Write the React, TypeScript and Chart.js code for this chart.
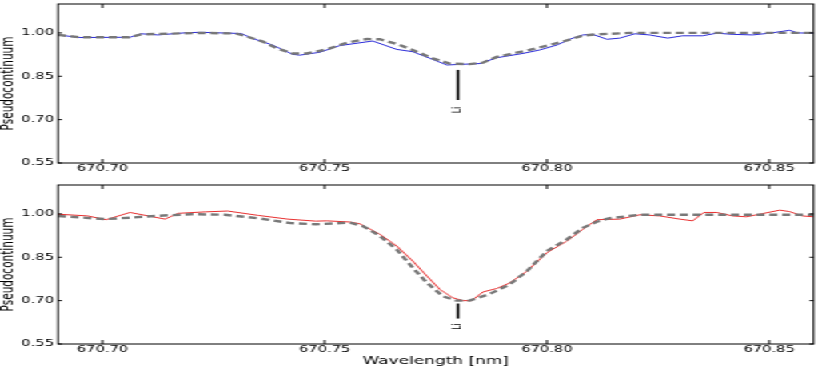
import React, { useEffect, useRef } from "react";
import { Chart, registerables } from "chart.js";
Chart.register(...registerables);

// ---- data ----
const xTicks = [670.7, 670.75, 670.8, 670.85];
const yTicks = [0.55, 0.7, 0.85, 1.0];
const xLabel = "Wavelength [nm]";
const yLabel = "Pseudocontinuum";
const liWave = 670.78;
const liLabel = "Li";
// [line top, line bottom, label centre]
const topMarker = [0.872, 0.768, 0.733];
const botMarker = [0.69, 0.638, 0.61];

const topObsWave = [670.69, 670.6949, 670.7062, 670.7087, 670.7125, 670.7192, 670.7222, 670.7312, 670.7338, 670.7383, 670.7428, 670.7444, 670.7489, 670.7534, 670.7608, 670.7662, 670.7698, 670.7737, 670.7775, 670.7804, 670.7849, 670.7887, 670.7946, 670.7984, 670.8022, 670.8058, 670.8081, 670.8103, 670.8135, 670.8164, 670.8198, 670.8231, 670.8272, 670.8305, 670.835, 670.8382, 670.8418, 670.8463, 670.8501, 670.8546, 670.8564, 670.86];
const topObsFlux = [0.993, 0.984, 0.985, 0.997, 0.993, 1.001, 1.002, 0.998, 0.981, 0.958, 0.926, 0.923, 0.933, 0.956, 0.972, 0.943, 0.935, 0.912, 0.889, 0.891, 0.894, 0.914, 0.929, 0.941, 0.958, 0.982, 0.993, 0.995, 0.978, 0.982, 0.997, 0.993, 0.982, 0.99, 0.99, 0.999, 0.995, 0.993, 0.999, 1.009, 1.0, 0.999];
const topModelWave = [670.69, 670.695, 670.706, 670.7087, 670.722, 670.73, 670.732, 670.7361, 670.7392, 670.7428, 670.746, 670.7505, 670.755, 670.7595, 670.7624, 670.7662, 670.7698, 670.7743, 670.7781, 670.7826, 670.7856, 670.7887, 670.7961, 670.8036, 670.8081, 670.8112, 670.8186, 670.86];
const topModelFlux = [0.993, 0.985, 0.985, 0.995, 1.0, 0.998, 0.99, 0.97, 0.947, 0.929, 0.929, 0.943, 0.966, 0.979, 0.978, 0.962, 0.941, 0.912, 0.894, 0.892, 0.897, 0.917, 0.941, 0.97, 0.991, 0.995, 1.0, 1.0];

const botObsWave = [670.69, 670.6967, 670.7008, 670.7062, 670.7141, 670.717, 670.7231, 670.7282, 670.735, 670.7417, 670.748, 670.7505, 670.7557, 670.7579, 670.7624, 670.7662, 670.7698, 670.773, 670.7759, 670.7788, 670.7811, 670.7831, 670.7856, 670.7887, 670.7916, 670.7955, 670.8, 670.8045, 670.8081, 670.8112, 670.8164, 670.8209, 670.8254, 670.8299, 670.8328, 670.8353, 670.8382, 670.8418, 670.8449, 670.8485, 670.8524, 670.8546, 670.8575, 670.86];
const botObsFlux = [0.999, 0.993, 0.98, 1.005, 0.982, 1.002, 1.007, 1.01, 0.995, 0.982, 0.975, 0.976, 0.972, 0.966, 0.93, 0.889, 0.837, 0.785, 0.739, 0.71, 0.7, 0.7, 0.73, 0.742, 0.761, 0.802, 0.866, 0.906, 0.947, 0.98, 0.982, 0.997, 0.993, 0.982, 0.976, 1.005, 1.005, 0.993, 0.99, 1.001, 1.013, 1.008, 0.993, 0.99];
const botModelWave = [670.69, 670.7006, 670.7062, 670.7118, 670.7199, 670.7276, 670.735, 670.7424, 670.748, 670.7557, 670.7586, 670.7624, 670.7662, 670.7698, 670.773, 670.7766, 670.7797, 670.7826, 670.7871, 670.7916, 670.7955, 670.8, 670.8045, 670.8081, 670.8112, 670.8141, 670.8209, 670.86];
const botModelFlux = [0.993, 0.982, 0.987, 0.993, 0.999, 0.997, 0.985, 0.968, 0.964, 0.97, 0.958, 0.924, 0.877, 0.814, 0.762, 0.715, 0.7, 0.7, 0.723, 0.756, 0.802, 0.872, 0.912, 0.952, 0.973, 0.985, 0.997, 0.997];

const NATIVE_W = 519;
const FONT = "'DejaVu Sans', 'Liberation Sans', sans-serif";

type PanelProps = {
  obsW: number[];
  obsF: number[];
  modW: number[];
  modF: number[];
  color: string;
  marker: number[];
  showXTitle: boolean;
  height: number;
  padTop: number;
  padBottom: number;
  xAxisH: number;
};

function Panel(p: PanelProps) {
  const ref = useRef<HTMLCanvasElement>(null);
  useEffect(() => {
    const framePlugin = {
      id: "frame",
      afterDraw(chart: any) {
        const { ctx, chartArea: a, scales } = chart;
        const xs = scales.x;
        const ys = scales.y;
        ctx.save();
        ctx.strokeStyle = "#000";
        ctx.lineWidth = 1;
        ctx.strokeRect(a.left, a.top, a.right - a.left, a.bottom - a.top);
        ctx.beginPath();
        xTicks.forEach((v) => {
          const px = xs.getPixelForValue(v);
          ctx.moveTo(px, a.bottom);
          ctx.lineTo(px, a.bottom - 4);
          ctx.moveTo(px, a.top);
          ctx.lineTo(px, a.top + 4);
        });
        yTicks.forEach((v) => {
          const py = ys.getPixelForValue(v);
          ctx.moveTo(a.left, py);
          ctx.lineTo(a.left + 2.5, py);
          ctx.moveTo(a.right, py);
          ctx.lineTo(a.right - 2.5, py);
        });
        ctx.stroke();
        const mx = xs.getPixelForValue(liWave);
        ctx.lineWidth = 1.6;
        ctx.beginPath();
        ctx.moveTo(mx, ys.getPixelForValue(p.marker[0]));
        ctx.lineTo(mx, ys.getPixelForValue(p.marker[1]));
        ctx.stroke();
        ctx.translate(mx, ys.getPixelForValue(p.marker[2]));
        ctx.rotate(-Math.PI / 2);
        ctx.font = `7.7px ${FONT}`;
        ctx.textAlign = "center";
        ctx.textBaseline = "middle";
        ctx.fillStyle = "#000";
        ctx.fillText(liLabel, 0, 0);
        ctx.restore();
      },
    };
    const chart = new Chart(ref.current as HTMLCanvasElement, {
      type: "line",
      data: {
        datasets: [
          {
            data: p.modW.map((x, i) => ({ x, y: p.modF[i] })),
            borderColor: "#787878",
            borderWidth: 2.4,
            borderDash: [5, 3],
            pointRadius: 0,
            tension: 0,
            order: 0,
          },
          {
            data: p.obsW.map((x, i) => ({ x, y: p.obsF[i] })),
            borderColor: p.color,
            borderWidth: 1,
            pointRadius: 0,
            tension: 0,
            order: 1,
          },
        ],
      },
      options: {
        animation: false,
        responsive: false,
        devicePixelRatio: 1,
        layout: { padding: { left: 0, right: 10.25, top: p.padTop, bottom: p.padBottom } },
        plugins: { legend: { display: false }, tooltip: { enabled: false } },
        scales: {
          x: {
            type: "linear",
            min: 670.69,
            max: 670.86,
            grid: { display: false, drawTicks: false },
            border: { display: false },
            ticks: {
              padding: 0,
              color: "#000",
              font: { family: FONT, size: 9.2 },
              maxRotation: 0,
              autoSkip: false,
              callback: (v: any) => Number(v).toFixed(2),
            },
            afterBuildTicks: (s: any) => {
              s.ticks = xTicks.map((v) => ({ value: v }));
            },
            afterFit: (s: any) => {
              s.height = p.xAxisH;
              s.paddingLeft = 0;
              s.paddingRight = 0;
            },
            title: {
              display: p.showXTitle,
              text: xLabel,
              color: "#000",
              font: { family: FONT, size: 10.6 },
              padding: 0,
            },
          },
          y: {
            type: "linear",
            min: 0.55,
            max: 1.1,
            grid: { display: false, drawTicks: false },
            border: { display: false },
            ticks: {
              padding: 2.5,
              color: "#000",
              font: { family: FONT, size: 9.2 },
              callback: (v: any) => Number(v).toFixed(2),
            },
            afterBuildTicks: (s: any) => {
              s.ticks = yTicks.map((v) => ({ value: v }));
            },
            afterFit: (s: any) => {
              s.width = 36.25;
              s.paddingTop = 0;
              s.paddingBottom = 0;
            },
            title: {
              display: true,
              text: yLabel,
              color: "#000",
              font: { family: FONT, size: 10.5, lineHeight: 1 },
              padding: 0,
            },
          },
        },
      } as any,
      plugins: [framePlugin],
    });
    return () => chart.destroy();
  }, []);
  return <canvas ref={ref} width={NATIVE_W} height={p.height} style={{ display: "block" }} />;
}

export default function App() {
  return (
    <div
      style={{
        position: "fixed",
        left: 0,
        top: 0,
        width: NATIVE_W,
        height: 382,
        background: "#fff",
        transform: `scaleX(${830 / NATIVE_W})`,
        transformOrigin: "0 0",
      }}
    >
      <Panel
        obsW={topObsWave}
        obsF={topObsFlux}
        modW={topModelWave}
        modF={topModelFlux}
        color="#2a2ad8"
        marker={topMarker}
        showXTitle={false}
        height={180}
        padTop={4}
        padBottom={0}
        xAxisH={17}
      />
      <Panel
        obsW={botObsWave}
        obsF={botObsFlux}
        modW={botModelWave}
        modF={botModelFlux}
        color="#e83030"
        marker={botMarker}
        showXTitle={true}
        height={202}
        padTop={5}
        padBottom={14}
        xAxisH={24}
      />
    </div>
  );
}
